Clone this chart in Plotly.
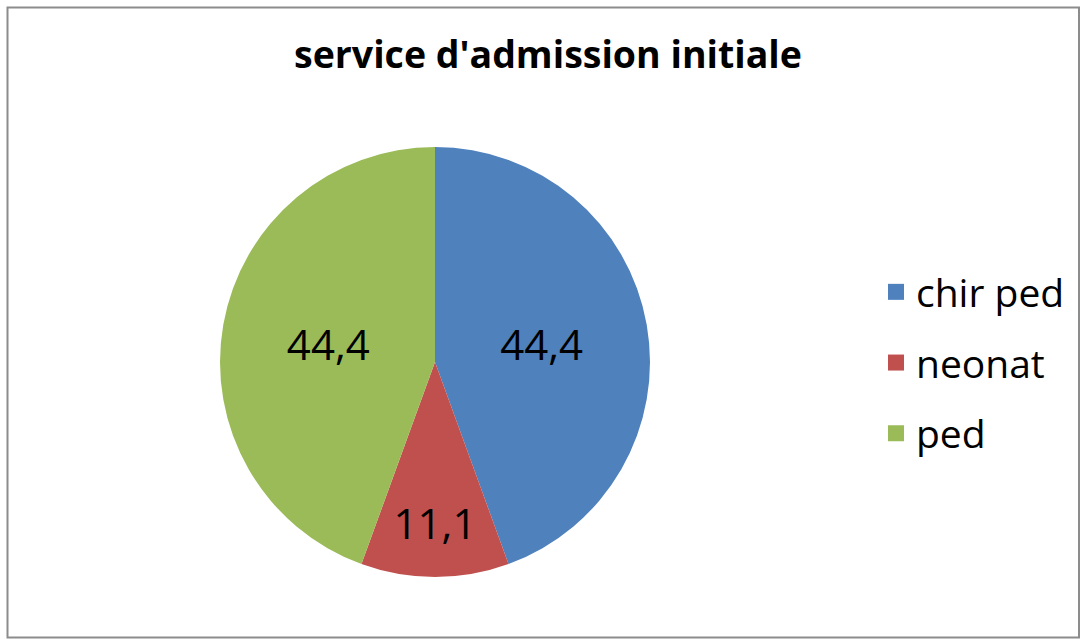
import plotly.graph_objects as go

labels = ["chir ped", "neonat", "ped"]
values = [44.4, 11.1, 44.4]
text_labels = ["44,4", "11,1", "44,4"]
colors = ["#4F81BD", "#C0504D", "#9BBB59"]
title = "service d'admission initiale"

W, H = 1081, 639
cx, cy, r = 435, 362, 215
FONT = "Open Sans"

fig = go.Figure()
fig.add_trace(go.Pie(
    labels=labels,
    values=values,
    text=text_labels,
    textinfo="text",
    textposition="inside",
    insidetextorientation="horizontal",
    sort=False,
    direction="clockwise",
    rotation=0,
    showlegend=False,
    marker=dict(colors=colors, line=dict(width=0)),
    textfont=dict(size=42, color="black", family=FONT),
    domain=dict(x=[(cx - r) / W, (cx + r) / W], y=[1 - (cy + r) / H, 1 - (cy - r) / H]),
    hoverinfo="label+value",
))

# legend entries (one per category, same colours as the slices)
for lab, col in zip(labels, colors):
    fig.add_trace(go.Scatter(
        x=[None], y=[None], mode="markers", name=lab, legendgroup=lab,
        marker=dict(symbol="square", size=25, color=col),
        showlegend=True, hoverinfo="skip",
    ))

fig.update_layout(
    width=W, height=H,
    margin=dict(l=0, r=0, t=0, b=0),
    paper_bgcolor="white",
    plot_bgcolor="white",
    xaxis=dict(visible=False),
    yaxis=dict(visible=False),
    title=dict(text="<b>" + title + "</b>", x=548 / W, xanchor="center", y=1 - 55 / H, yanchor="middle",
               font=dict(size=37.5, color="black", family=FONT)),
    legend=dict(x=876 / W, xanchor="left", y=1 - 363 / H, yanchor="middle",
                font=dict(size=39, color="black", family=FONT),
                tracegroupgap=17, itemsizing="trace", bgcolor="rgba(0,0,0,0)"),
    uniformtext=dict(minsize=42, mode="show"),
    shapes=[dict(type="rect", xref="paper", yref="paper",
                 x0=7.5 / W, x1=1079 / W, y0=1 - 637.5 / H, y1=1 - 7.5 / H,
                 line=dict(color="#8C8C8C", width=2), fillcolor="rgba(0,0,0,0)")],
)

fig.write_html("out.html", config={"displayModeBar": False},
               post_script="document.body.style.margin='0';document.body.style.overflow='hidden';")
